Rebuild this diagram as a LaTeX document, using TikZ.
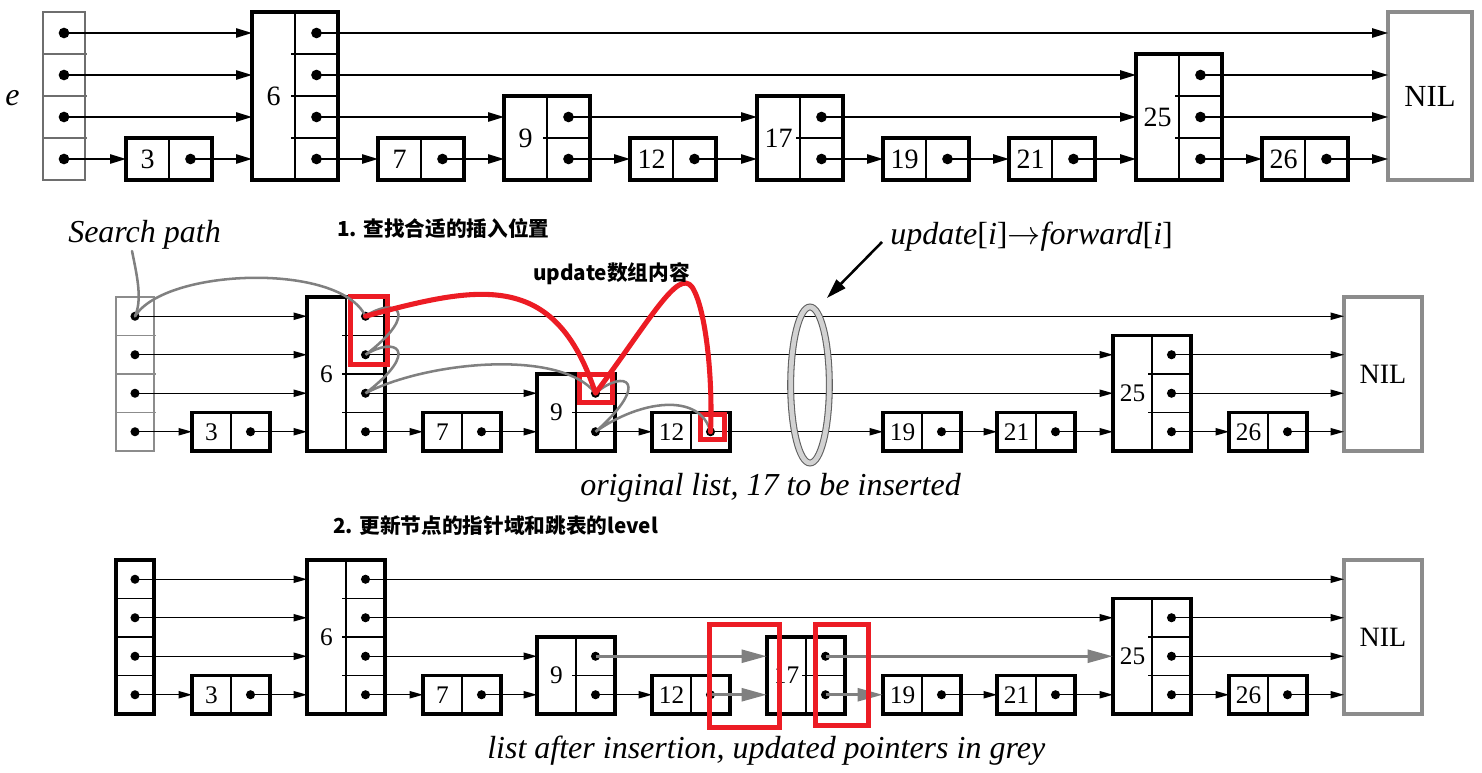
\documentclass[tikz,border=0pt]{standalone}
\usepackage{fontspec}
\setmainfont{Liberation Serif}
\newfontfamily\cjk{Noto Sans CJK SC}
\usetikzlibrary{arrows.meta,shapes.geometric}
\definecolor{redmark}{RGB}{236,28,36}
\definecolor{pathgrey}{RGB}{128,128,128}
\definecolor{boxgrey}{RGB}{140,140,140}
\definecolor{hdrgrey}{RGB}{110,110,110}

\tikzset{
  nodeboxA/.style={draw=black, line width=2.9pt, inner sep=0pt, outer sep=0pt},
  nodeboxB/.style={draw=black, line width=2.5pt, inner sep=0pt, outer sep=0pt},
  hdrA/.style={draw=hdrgrey, line width=1.3pt, inner sep=0pt, outer sep=0pt},
  hdrB/.style={draw=boxgrey, line width=1.2pt, inner sep=0pt, outer sep=0pt},
  nilbox/.style={draw=boxgrey, line width=2.8pt, inner sep=0pt, outer sep=0pt},
  divA/.style={line width=1.1pt},
  divB/.style={line width=1pt},
  hdivA/.style={draw=hdrgrey, line width=1.1pt},
  hdivB/.style={draw=boxgrey, line width=1pt},
  keyA/.style={font=\fontsize{21}{21}\selectfont, inner sep=0pt},
  keyB/.style={font=\fontsize{19}{19}\selectfont, inner sep=0pt},
  nilA/.style={font=\fontsize{23}{23}\selectfont, inner sep=0pt},
  nilB/.style={font=\fontsize{21}{21}\selectfont, inner sep=0pt},
  dotA/.style={fill=black, radius=4pt},
  dotB/.style={fill=black, radius=3.4pt},
  ptrA/.style={line width=1.2pt, -{Triangle[length=12pt,width=7pt]}},
  ptrB/.style={line width=1pt, -{Triangle[length=10pt,width=5.4pt]}},
  newptr/.style={draw=gray, line width=2.6pt, -{Triangle[length=19pt,width=9.5pt]}},
  spath/.style={draw=pathgrey, line width=1.9pt, line cap=round},
  redbox/.style={draw=redmark, line width=3.8pt, inner sep=0pt, outer sep=0pt},
  redpath/.style={draw=redmark, line width=3.8pt, line cap=round, line join=round},
  lab/.style={font=\fontsize{24}{24}\selectfont\itshape, inner sep=0pt, anchor=base west},
  cjklab/.style={font=\cjk\bfseries\fontsize{15.5}{15.5}\selectfont, inner sep=0pt, anchor=base west},
  bigarr/.style={line width=1.9pt, -{Triangle[length=15pt,width=9pt]}},
  ringstyle/.style={draw=gray!75!black, line width=0.8pt, double=gray!35, double distance=3.6pt, inner sep=0pt, outer sep=0pt}
}

% skip-list node: #1 name, #2 left x, #3 bottom y, #4 levels, #5 key, #6 cell w, #7 cell h, #8 row style letter
\newcommand\skipnd[8]{%
  \node[nodebox#8, minimum width={2*#6*0.75pt}, minimum height={#4*#7*0.75pt}, anchor=south west] (#1) at (#2,#3) {};
  \draw[div#8] ({#2+#6},{#3+2}) -- ({#2+#6},{#3-#4*#7});
  \ifnum#4>1
    \foreach \i in {2,...,#4} \draw[div#8] ({#2+#6-4},{#3-(\i-1)*#7}) -- ({#2+2*#6+2},{#3-(\i-1)*#7});
  \fi
  \node[key#8] (#1-key) at ({#2+0.5*#6},{#3-#4*#7/2}) {#5};
  \foreach \i in {1,...,#4} {
    \coordinate (#1-\i) at ({#2+1.5*#6},{#3-(\i-0.5)*#7});
    \coordinate (#1-in\i) at (#2,{#3-(\i-0.5)*#7});
    \fill[dot#8] (#1-\i) circle;
  }
}
% header: #1 name, #2 x, #3 bottom y, #4 w, #5 cell h, #6 box style, #7 divider style, #8 dot style
\newcommand\hdrnd[8]{%
  \node[#6, minimum width={#4*0.75pt}, minimum height={4*#5*0.75pt}, anchor=south west] (#1) at (#2,#3) {};
  \foreach \i in {1,2,3} \draw[#7] (#2,{#3-\i*#5}) -- ({#2+#4+2},{#3-\i*#5});
  \foreach \i in {1,...,4} {
    \coordinate (#1-\i) at ({#2+#4/2},{#3-(\i-0.5)*#5});
    \fill[#8] (#1-\i) circle;
  }
}
% NIL: #1 name, #2 x, #3 bottom y, #4 w, #5 cell h, #6 font style
\newcommand\nilnd[6]{%
  \node[nilbox, minimum width={#4*0.75pt}, minimum height={4*#5*0.75pt}, anchor=south west] (#1) at (#2,#3) {};
  \node[#6] (#1-lab) at (#1.center) {NIL};
  \foreach \i in {1,...,4} \coordinate (#1-in\i) at (#2,{#3-(\i-0.5)*#5});
}

\begin{document}
\begin{tikzpicture}[x=0.75pt,y=-0.75pt]
\useasboundingbox (0,0) rectangle (1482,773);

% ---------------- Row A ----------------
\hdrnd{Ah}{43}{180}{42}{42}{hdrA}{hdivA}{dotA}
\skipnd{A3}{126}{180}{1}{3}{43}{42}{A}
\skipnd{A6}{252}{180}{4}{6}{43}{42}{A}
\skipnd{A7}{378}{180}{1}{7}{43}{42}{A}
\skipnd{A9}{504}{180}{2}{9}{43}{42}{A}
\skipnd{A12}{630}{180}{1}{12}{43}{42}{A}
\skipnd{A17}{757}{180}{2}{17}{43}{42}{A}
\skipnd{A19}{883}{180}{1}{19}{43}{42}{A}
\skipnd{A21}{1009}{180}{1}{21}{43}{42}{A}
\skipnd{A25}{1136}{180}{3}{25}{43}{42}{A}
\skipnd{A26}{1262}{180}{1}{26}{43}{42}{A}
\nilnd{ANIL}{1388}{180}{84}{42}{nilA}
\foreach \s/\t in {Ah-4/A6-in4, Ah-3/A6-in3, Ah-2/A6-in2, Ah-1/A3-in1, A3-1/A6-in1,
  A6-4/ANIL-in4, A6-3/A25-in3, A6-2/A9-in2, A6-1/A7-in1, A7-1/A9-in1,
  A9-2/A17-in2, A9-1/A12-in1, A12-1/A17-in1, A17-2/A25-in2, A17-1/A19-in1,
  A19-1/A21-in1, A21-1/A25-in1, A25-3/ANIL-in3, A25-2/ANIL-in2, A25-1/A26-in1, A26-1/ANIL-in1}
  \draw[ptrA] (\s) -- (\t);
\node[lab] (elab) at (5,106) {e};

% ---------------- Row B ----------------
\hdrnd{Bh}{116}{451}{38}{38.5}{hdrB}{hdivB}{dotB}
\skipnd{B3}{192}{451}{1}{3}{39}{38.5}{B}
\skipnd{B6}{307}{451}{4}{6}{39}{38.5}{B}
\skipnd{B7}{423}{451}{1}{7}{39}{38.5}{B}
\skipnd{B9}{537}{451}{2}{9}{39}{38.5}{B}
\skipnd{B12}{652}{451}{1}{12}{39}{38.5}{B}
\skipnd{B19}{883}{451}{1}{19}{39}{38.5}{B}
\skipnd{B21}{997}{451}{1}{21}{39}{38.5}{B}
\skipnd{B25}{1113}{451}{3}{25}{39}{38.5}{B}
\skipnd{B26}{1229}{451}{1}{26}{39}{38.5}{B}
\nilnd{BNIL}{1344}{451}{78}{38.5}{nilB}
\foreach \s/\t in {Bh-4/B6-in4, Bh-3/B6-in3, Bh-2/B6-in2, Bh-1/B3-in1, B3-1/B6-in1,
  B6-4/BNIL-in4, B6-3/B25-in3, B6-2/B9-in2, B6-1/B7-in1, B7-1/B9-in1,
  B9-2/B25-in2, B9-1/B12-in1, B12-1/B19-in1,
  B19-1/B21-in1, B21-1/B25-in1, B25-3/BNIL-in3, B25-2/BNIL-in2, B25-1/B26-in1, B26-1/BNIL-in1}
  \draw[ptrB] (\s) -- (\t);

% ring marking update[i]->forward[i]
\node[ringstyle, ellipse, minimum width=29pt, minimum height=117pt] (ring) at (810,385) {};
\node[lab] (updlab) at (890,245) {update{\upshape[}i{\upshape]}$\rightarrow$forward{\upshape[}i{\upshape]}};
\coordinate (updtail) at (882,242);
\coordinate (ringtip) at (827,298);
\draw[bigarr] (updtail) -- (ringtip);

% search path
\node[lab] (sp) at (68,243) {Search path};
\coordinate (spstart) at (132,251);
\node[redbox, minimum width=27.75pt, minimum height=51pt] (r1) at (369,330.5) {};
\node[redbox, minimum width=24.75pt, minimum height=21pt] (r2) at (596,388.5) {};
\node[redbox, minimum width=18pt, minimum height=18.75pt] (r3) at (712.5,427) {};
\draw[spath] (spstart) .. controls (138,280) and (142,300) .. (Bh-4);
\draw[spath] (Bh-4) .. controls (165,268) and (340,262) .. (B6-4)
  .. controls (395,296) and (422,312) .. (B6-3)
  .. controls (395,336) and (422,350) .. (B6-2)
  .. controls (425,362) and (560,348) .. (B9-2)
  .. controls (625,368) and (652,382) .. (B9-1)
  .. controls (640,400) and (700,392) .. (B12-1);
\coordinate (redpeak) at (692,287);
\draw[redpath] (B6-4) .. controls (480,285) and (555,270) .. (B9-2)
  .. controls (650,320) and (678,268) .. (redpeak)
  .. controls (706,308) and (713,380) .. (B12-1);

\node[cjklab] (step1) at (337,237) {1. 查找合适的插入位置};
\node[cjklab] (upd) at (533,281) {update数组内容};
\node[lab] (orig) at (580,495) {original list, 17 to be inserted};

% ---------------- Row C ----------------
\hdrnd{Ch}{116}{714}{38}{38.5}{nodeboxB}{divB}{dotB}
\skipnd{C3}{192}{714}{1}{3}{39}{38.5}{B}
\skipnd{C6}{307}{714}{4}{6}{39}{38.5}{B}
\skipnd{C7}{423}{714}{1}{7}{39}{38.5}{B}
\skipnd{C9}{537}{714}{2}{9}{39}{38.5}{B}
\skipnd{C12}{652}{714}{1}{12}{39}{38.5}{B}
\skipnd{C17}{767}{714}{2}{17}{39}{38.5}{B}
\skipnd{C19}{883}{714}{1}{19}{39}{38.5}{B}
\skipnd{C21}{997}{714}{1}{21}{39}{38.5}{B}
\skipnd{C25}{1113}{714}{3}{25}{39}{38.5}{B}
\skipnd{C26}{1229}{714}{1}{26}{39}{38.5}{B}
\nilnd{CNIL}{1344}{714}{78}{38.5}{nilB}
\foreach \s/\t in {Ch-4/C6-in4, Ch-3/C6-in3, Ch-2/C6-in2, Ch-1/C3-in1, C3-1/C6-in1,
  C6-4/CNIL-in4, C6-3/C25-in3, C6-2/C9-in2, C6-1/C7-in1, C7-1/C9-in1,
  C9-1/C12-in1,
  C19-1/C21-in1, C21-1/C25-in1, C25-3/CNIL-in3, C25-2/CNIL-in2, C25-1/C26-in1, C26-1/CNIL-in1}
  \draw[ptrB] (\s) -- (\t);
\foreach \s/\t in {C9-2/C17-in2, C12-1/C17-in1, C17-2/C25-in2, C17-1/C19-in1}
  \draw[newptr] (\s) -- (\t);
\node[redbox, minimum width=52.5pt, minimum height=77.25pt] (r4) at (744.5,676) {};
\node[redbox, minimum width=39.75pt, minimum height=75.75pt] (r5) at (842,675) {};

\node[cjklab] (step2) at (333,533) {2. 更新节点的指针域和跳表的level};
\node[lab] (after) at (487,758) {list after insertion, updated pointers in grey};
\end{tikzpicture}
\end{document}
